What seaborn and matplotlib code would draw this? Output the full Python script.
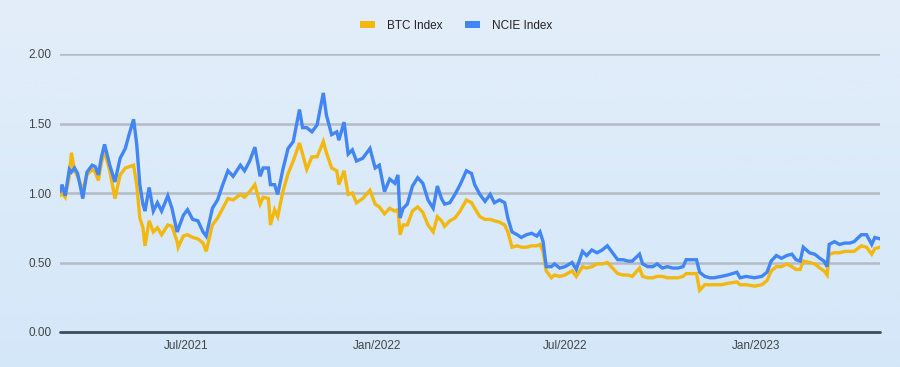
import numpy as np
import pandas as pd
import matplotlib
matplotlib.use("Agg")
import matplotlib.pyplot as plt
import matplotlib.dates as mdates
from matplotlib.patches import Patch
from matplotlib.colors import LinearSegmentedColormap
import seaborn as sns

start_date = "2021-03-01"
day_offsets = [0, 2, 5, 9, 11, 14, 17, 22, 26, 31, 34, 37, 40, 43, 48, 53, 58, 63, 67, 71,
               74, 77, 80, 82, 86, 90, 94, 98, 104, 108, 113, 114, 119, 123, 128, 133, 138, 141, 147, 152,
               157, 162, 167, 174, 178, 183, 188, 193, 196, 201, 203, 207, 210, 215, 220, 225, 231, 234, 238, 243,
               248, 254, 257, 262, 267, 269, 274, 278, 282, 286, 292, 299, 304, 308, 313, 318, 323, 326, 328, 331,
               335, 340, 345, 350, 355, 360, 364, 368, 371, 376, 381, 386, 392, 397, 400, 405, 410, 415, 419, 424,
               429, 432, 436, 441, 445, 450, 455, 460, 463, 466, 469, 474, 477, 482, 487, 494, 498, 504, 508, 513,
               518, 523, 528, 533, 538, 543, 548, 552, 559, 562, 567, 572, 576, 581, 586, 591, 596, 601, 604, 609,
               614, 617, 622, 627, 631, 638, 644, 653, 656, 662, 670, 677, 682, 686, 691, 696, 701, 706, 710, 714,
               717, 723, 728, 733, 737, 740, 742, 747, 752, 757, 762, 766, 773, 778, 783, 786, 791]

ncie_index = [1.01, 1.06, 0.98, 1.17, 1.15, 1.18, 1.14, 0.96, 1.15, 1.20, 1.19, 1.13, 1.26, 1.35, 1.20, 1.08, 1.25, 1.32, 1.43, 1.53,
              1.35, 1.06, 0.92, 0.87, 1.04, 0.87, 0.93, 0.87, 0.98, 0.89, 0.72, 0.74, 0.84, 0.88, 0.81, 0.80, 0.72, 0.69, 0.89, 0.95,
              1.06, 1.16, 1.12, 1.20, 1.16, 1.23, 1.33, 1.12, 1.18, 1.18, 1.06, 1.06, 0.99, 1.17, 1.32, 1.37, 1.60, 1.47, 1.47, 1.44,
              1.49, 1.72, 1.56, 1.42, 1.44, 1.38, 1.51, 1.28, 1.31, 1.23, 1.25, 1.32, 1.18, 1.20, 1.01, 1.10, 1.07, 1.13, 0.82, 0.89,
              0.92, 1.05, 1.11, 1.07, 0.95, 0.89, 1.05, 0.96, 0.92, 0.93, 0.99, 1.06, 1.16, 1.14, 1.06, 0.99, 0.94, 0.99, 0.93, 0.95,
              0.93, 0.82, 0.72, 0.70, 0.68, 0.70, 0.71, 0.69, 0.72, 0.65, 0.47, 0.47, 0.49, 0.46, 0.47, 0.50, 0.45, 0.58, 0.55, 0.59,
              0.57, 0.59, 0.62, 0.57, 0.52, 0.52, 0.51, 0.51, 0.56, 0.49, 0.47, 0.47, 0.49, 0.46, 0.47, 0.46, 0.46, 0.47, 0.52, 0.52,
              0.52, 0.43, 0.40, 0.39, 0.39, 0.40, 0.41, 0.43, 0.39, 0.40, 0.39, 0.40, 0.43, 0.51, 0.55, 0.53, 0.55, 0.56, 0.52, 0.51,
              0.61, 0.57, 0.56, 0.53, 0.51, 0.47, 0.63, 0.65, 0.63, 0.64, 0.64, 0.65, 0.70, 0.70, 0.63, 0.68, 0.67]

btc_index = [0.98, 1.00, 0.97, 1.12, 1.29, 1.16, 1.12, 1.02, 1.13, 1.17, 1.15, 1.09, 1.22, 1.30, 1.16, 0.96, 1.13, 1.18, 1.19, 1.20,
             1.06, 0.82, 0.75, 0.62, 0.80, 0.72, 0.75, 0.70, 0.77, 0.76, 0.65, 0.61, 0.69, 0.70, 0.68, 0.67, 0.64, 0.58, 0.77, 0.82,
             0.89, 0.96, 0.95, 0.99, 0.97, 1.01, 1.06, 0.92, 0.97, 0.96, 0.77, 0.88, 0.83, 1.01, 1.14, 1.23, 1.36, 1.28, 1.17, 1.26,
             1.26, 1.37, 1.29, 1.18, 1.16, 1.06, 1.16, 0.99, 1.00, 0.93, 0.96, 1.02, 0.92, 0.90, 0.85, 0.89, 0.87, 0.88, 0.70, 0.77,
             0.77, 0.87, 0.90, 0.86, 0.77, 0.72, 0.83, 0.80, 0.76, 0.80, 0.82, 0.87, 0.95, 0.93, 0.89, 0.83, 0.81, 0.81, 0.80, 0.79,
             0.77, 0.72, 0.61, 0.62, 0.61, 0.61, 0.62, 0.62, 0.63, 0.58, 0.44, 0.39, 0.41, 0.40, 0.41, 0.44, 0.40, 0.47, 0.46, 0.47,
             0.49, 0.49, 0.50, 0.46, 0.42, 0.41, 0.41, 0.40, 0.46, 0.40, 0.39, 0.39, 0.40, 0.40, 0.39, 0.39, 0.39, 0.40, 0.42, 0.42,
             0.42, 0.30, 0.34, 0.34, 0.34, 0.34, 0.35, 0.36, 0.34, 0.34, 0.33, 0.34, 0.37, 0.44, 0.47, 0.47, 0.49, 0.47, 0.45, 0.45,
             0.51, 0.50, 0.49, 0.46, 0.44, 0.41, 0.56, 0.57, 0.57, 0.58, 0.58, 0.58, 0.62, 0.61, 0.56, 0.60, 0.61]

series_names = ["BTC Index", "NCIE Index"]
series_colors = ["#f2b80f", "#4285f4"]
y_ticks = [0.0, 0.5, 1.0, 1.5, 2.0]
x_ticks = ["2021-07-01", "2022-01-01", "2022-07-01", "2023-01-01"]

dates = pd.to_datetime(start_date) + pd.to_timedelta(day_offsets, unit="D")
df = pd.concat([
    pd.DataFrame({"date": dates, "value": btc_index, "series": series_names[0]}),
    pd.DataFrame({"date": dates, "value": ncie_index, "series": series_names[1]}),
])

sns.set_theme(style="white")
plt.rcParams["font.family"] = ["Liberation Sans", "DejaVu Sans"]

fig = plt.figure(figsize=(9, 3.67), dpi=100)
# background gradient
bg = fig.add_axes([0, 0, 1, 1], zorder=-10)
grad = np.linspace(0, 1, 256).reshape(-1, 1)
cmap = LinearSegmentedColormap.from_list("bg", ["#e3eef9", "#d4e7f9"])
bg.imshow(grad, aspect="auto", cmap=cmap, extent=[0, 1, 0, 1], origin="upper")
bg.axis("off")

ax = fig.add_axes([60 / 900, 35 / 367, 820 / 900, 278 / 367])
ax.set_facecolor("none")
sns.lineplot(data=df, x="date", y="value", hue="series", palette=series_colors,
             hue_order=series_names, linewidth=2.4, ax=ax, legend=False)
for ln in ax.get_lines():
    ln.set_solid_joinstyle("miter")

ax.set_ylim(0, 2.0)
ax.set_xlim(dates[0], dates[-1])
ax.set_yticks(y_ticks)
ax.set_yticklabels([f"{v:.2f}" for v in y_ticks])
ax.set_xticks(pd.to_datetime(x_ticks))
ax.xaxis.set_major_formatter(mdates.DateFormatter("%b/%Y"))
for v in y_ticks[1:]:
    ax.axhline(v, color="#b3bbc3", linewidth=1.8, zorder=0)
ax.axhline(0, color="#3f4b5b", linewidth=2.0, zorder=0, clip_on=False)
for s in ax.spines.values():
    s.set_visible(False)
ax.tick_params(axis="both", length=0, labelsize=8.5, colors="#444444")
ax.tick_params(axis="y", pad=6)
ax.tick_params(axis="x", pad=6)
ax.set_xlabel("")
ax.set_ylabel("")
ax.grid(False)

handles = [Patch(facecolor=c, edgecolor="none") for c in series_colors]
fig.legend(handles, series_names, loc="center", bbox_to_anchor=(0.507, 0.93), ncol=2,
           frameon=False, fontsize=8.5, handlelength=1.3, handleheight=0.55,
           columnspacing=1.9, handletextpad=1.0, labelcolor="#222222")

fig.savefig("out.png", dpi=100)
